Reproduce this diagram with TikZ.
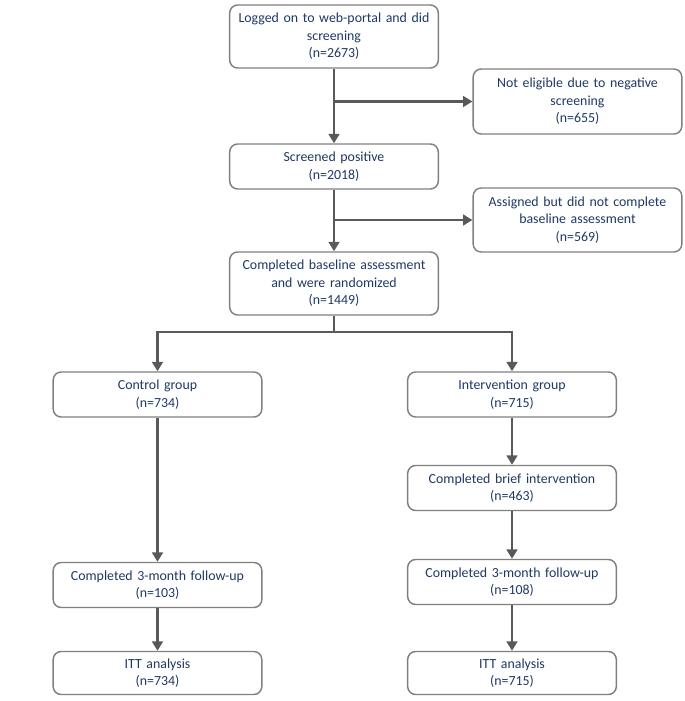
\documentclass[tikz,border=0pt]{standalone}
\usepackage{fontspec}
\setmainfont{Carlito}
\usetikzlibrary{arrows.meta}
\definecolor{boxtext}{RGB}{31,56,100}
\definecolor{boxline}{RGB}{128,128,128}
\definecolor{flowline}{RGB}{89,89,89}
\begin{document}
\begin{tikzpicture}[x=0.75pt,y=-0.75pt,every text node part/.style={align=center},
  box/.style={draw=boxline,line width=1.1pt,rounded corners=6pt,minimum width=156.5pt,text width=152pt,inner sep=0pt,font=\fontsize{10.4}{13.2}\selectfont,text=boxtext},
  flow/.style={draw=flowline,line width=2.2pt,-{Triangle[length=7pt,width=8pt]}},
  plain/.style={draw=flowline,line width=2.2pt}]
\useasboundingbox (0,0) rectangle (685,701);
\node [box,minimum height=47.25pt] (login) at (334,36.5) {Logged on to web-portal and did\\screening\\(n=2673)};
\node [box,minimum height=48.75pt] (noteligible) at (577.5,101.5) {Not eligible due to negative\\screening\\(n=655)};
\node [box,minimum height=33.75pt] (screened) at (334,166.5) {Screened positive\\(n=2018)};
\node [box,minimum height=48pt] (assigned) at (577.5,220) {Assigned but did not complete\\baseline assessment\\(n=569)};
\node [box,minimum height=47.25pt] (baseline) at (334,283.5) {Completed baseline assessment\\and were randomized\\(n=1449)};
\node [box,minimum height=33.75pt] (control) at (157.5,394.5) {Control group\\(n=734)};
\node [box,minimum height=33.75pt] (intervention) at (512,394.5) {Intervention group\\(n=715)};
\node [box,minimum height=33.75pt] (brief) at (512,488) {Completed brief intervention\\(n=463)};
\node [box,minimum height=33.75pt] (ctrlfollow) at (157.5,585) {Completed 3-month follow-up\\(n=103)};
\node [box,minimum height=33.75pt] (intfollow) at (512,582) {Completed 3-month follow-up\\(n=108)};
\node [box,minimum height=32.25pt] (ctrlitt) at (157.5,673) {ITT analysis\\(n=734)};
\node [box,minimum height=32.25pt] (intitt) at (512,673) {ITT analysis\\(n=715)};
\coordinate (branchA) at (login.south |- noteligible.west);
\coordinate (branchB) at (screened.south |- assigned.west);
\coordinate (split) at (334,332);
\draw [flow] (login) -- (screened);
\draw [flow] (branchA) -- (noteligible.west);
\draw [flow] (screened) -- (baseline);
\draw [flow] (branchB) -- (assigned.west);
\draw [plain] (baseline) -- (split);
\draw [flow] (split) -| (control);
\draw [flow] (split) -| (intervention);
\draw [flow] (control) -- (ctrlfollow);
\draw [flow] (ctrlfollow) -- (ctrlitt);
\draw [flow] (intervention) -- (brief);
\draw [flow] (brief) -- (intfollow);
\draw [flow] (intfollow) -- (intitt);
\end{tikzpicture}
\end{document}
